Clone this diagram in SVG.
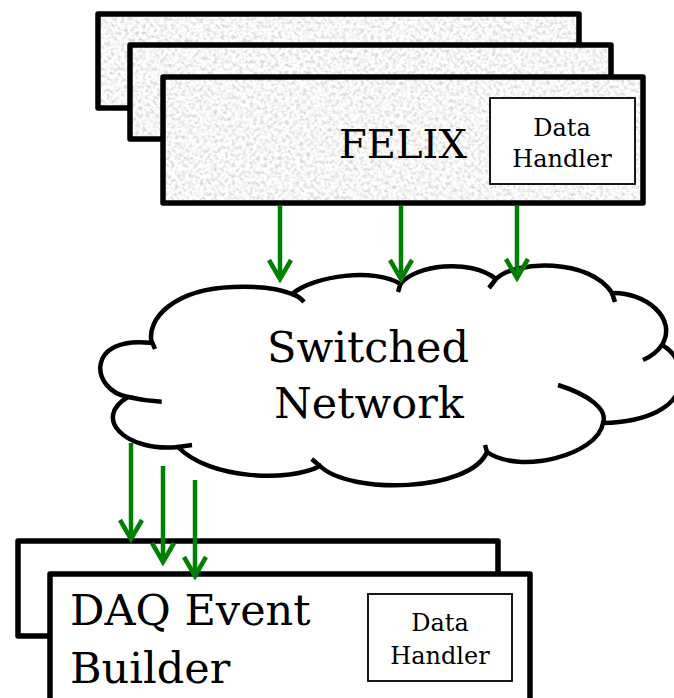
<svg xmlns="http://www.w3.org/2000/svg" width="674" height="698" viewBox="0 0 674 698">
<style>
.big{fill:none;stroke:#000;stroke-width:5.5;stroke-linejoin:round}
.wbox{fill:#fff;stroke:#000;stroke-width:5.5;stroke-linejoin:round}
.dh{fill:#fff;stroke:#000;stroke-width:1.8}
.t{font-family:"DejaVu Serif","Liberation Serif",serif;fill:#000}
.cl{fill:none;stroke:#000;stroke-width:4.5;stroke-linecap:butt}
.ar{fill:none;stroke:#008000;stroke-width:4.5}
</style>
<defs>
<filter id="granite" x="0" y="0" width="1" height="1">
<feTurbulence type="fractalNoise" baseFrequency="0.28" numOctaves="4" seed="7" result="n"/>
<feColorMatrix in="n" type="matrix" values="0.8 0 0 0 0.52  0.8 0 0 0 0.52  0.8 0 0 0 0.51  0 0 0 0 1" result="g"/>
<feComposite in="g" in2="SourceGraphic" operator="in"/>
</filter>
<marker id="ah" markerUnits="userSpaceOnUse" markerWidth="40" markerHeight="40" viewBox="-25 -20 30 40" refX="0" refY="0" orient="auto" overflow="visible">
<path d="M -19,-11 L 0,0 L -19,11" fill="none" stroke="#008000" stroke-width="4.5" stroke-linejoin="miter"/>
</marker>
</defs>

<g id="felix">
<rect x="98" y="14" width="481" height="94" fill="#e6e6e6" filter="url(#granite)"/>
<rect x="98" y="14" width="481" height="94" class="big"/>
<rect x="130" y="45" width="481" height="94" fill="#e6e6e6" filter="url(#granite)"/>
<rect x="130" y="45" width="481" height="94" class="big"/>
<rect x="163" y="77" width="480" height="126" fill="#e6e6e6" filter="url(#granite)"/>
<rect x="163" y="77" width="480" height="126" class="big"/>
<text x="403" y="158" class="t" font-size="40" text-anchor="middle">FELIX</text>
<g id="felix-data-handler">
<rect x="490" y="98" width="145" height="86" class="dh"/>
<text x="562" y="136" class="t" font-size="24" text-anchor="middle">Data</text>
<text x="562" y="167" class="t" font-size="24" text-anchor="middle">Handler</text>
</g>
</g>

<g id="cloud">
<path d="M 151.7,343 C 146,318 175,289 233,287 C 258,286 280,289 292,294 C 315,275 375,268 400.5,284 C 415,265 470,258 496,279 C 515,260 590,258 612,293 C 645,292 678,318 662,345 C 690,360 700,420 603,423 C 598,455 520,475 487,452 C 470,492 350,495 320,466 C 290,482 210,480 178,447 C 125,452 92,418 128,397 C 90,390 85,335 151.7,343 Z" fill="#fff" class="cl"/>
<path class="cl" d="M 151.7,341 L 155,349 M 292,294 Q 299,296 304,302 M 400.5,284 L 398,292 M 496,279 L 489,288 M 612,293 L 615,302 M 662,345 Q 655,355 643,360 M 558,385 C 590,395 608,410 603,423 M 487,452 L 485,445 M 320,466 L 311.7,459 M 178,447 L 192,445 M 128,397 Q 145,401 161.7,401.7"/>
<text x="368" y="362" class="t" font-size="43" text-anchor="middle">Switched</text>
<text x="369" y="418" class="t" font-size="43" text-anchor="middle">Network</text>
</g>

<g id="daq">
<rect x="18" y="541" width="480" height="95" class="wbox"/>
<rect x="50" y="574" width="480" height="150" class="wbox"/>
<text x="70" y="625" class="t" font-size="43">DAQ Event</text>
<text x="70" y="683" class="t" font-size="43">Builder</text>
<g id="daq-data-handler">
<rect x="368" y="594" width="144" height="87" class="dh"/>
<text x="440" y="631" class="t" font-size="24" text-anchor="middle">Data</text>
<text x="440" y="664" class="t" font-size="24" text-anchor="middle">Handler</text>
</g>
</g>

<g id="connectors">
<line x1="280" y1="206" x2="280" y2="279" class="ar" marker-end="url(#ah)"/>
<line x1="401" y1="206" x2="401" y2="279" class="ar" marker-end="url(#ah)"/>
<line x1="517" y1="206" x2="517" y2="278" class="ar" marker-end="url(#ah)"/>
<line x1="131" y1="443" x2="131" y2="539" class="ar" marker-end="url(#ah)"/>
<line x1="163" y1="466" x2="163" y2="562" class="ar" marker-end="url(#ah)"/>
<line x1="195" y1="480" x2="195" y2="576" class="ar" marker-end="url(#ah)"/>
</g>
</svg>
